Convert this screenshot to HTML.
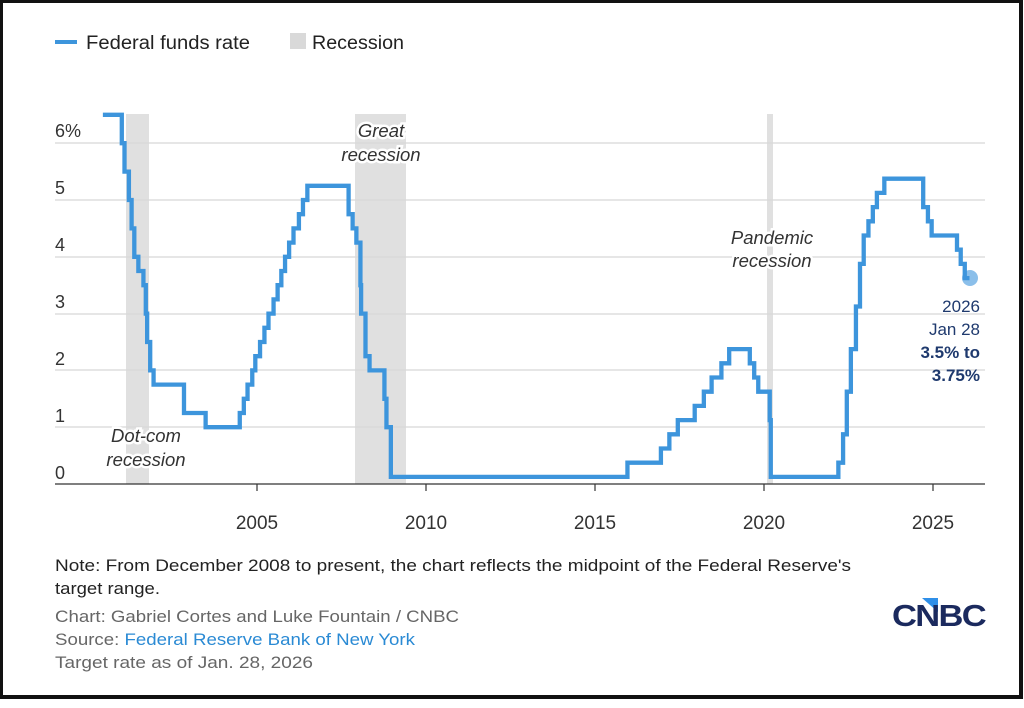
<!DOCTYPE html>
<html><head><meta charset="utf-8"><style>
html,body{margin:0;padding:0;background:#fff;width:1024px;height:708px;overflow:hidden}
.frame{position:absolute;left:0;top:0;width:1016px;height:692px;border:3px solid #111;border-right-width:4px;border-bottom-width:4px;background:#fff}
svg{position:absolute;left:0;top:0}
text{font-family:"Liberation Sans",sans-serif}
</style></head><body>
<div class="frame"></div>
<svg width="1024" height="708" viewBox="0 0 1024 708">
<!-- legend -->
<line x1="55" y1="42" x2="77" y2="42" stroke="#3d95dc" stroke-width="4"/>
<text x="86" y="49" font-size="19" fill="#222" textLength="164" lengthAdjust="spacingAndGlyphs">Federal funds rate</text>
<rect x="290" y="33" width="16" height="16" fill="#d9d9d9"/>
<text x="312" y="49" font-size="19" fill="#222" textLength="92" lengthAdjust="spacingAndGlyphs">Recession</text>
<!-- recessions -->
<rect x="126" y="114" width="23" height="370" fill="#e0e0e0"/>
<rect x="355" y="114" width="51" height="370" fill="#e0e0e0"/>
<rect x="767" y="114" width="6" height="370" fill="#e0e0e0"/>
<!-- grid -->
<g stroke="#d8d8d8" stroke-width="1.2">
<line x1="55" y1="143" x2="985" y2="143"/>
<line x1="55" y1="200" x2="985" y2="200"/>
<line x1="55" y1="257" x2="985" y2="257"/>
<line x1="55" y1="314" x2="985" y2="314"/>
<line x1="55" y1="370" x2="985" y2="370"/>
<line x1="55" y1="427" x2="985" y2="427"/>
</g>
<line x1="55" y1="484" x2="985" y2="484" stroke="#333" stroke-width="1.2"/>
<g stroke="#333" stroke-width="1.2">
<line x1="257" y1="484" x2="257" y2="491"/><line x1="426" y1="484" x2="426" y2="491"/>
<line x1="595" y1="484" x2="595" y2="491"/><line x1="764" y1="484" x2="764" y2="491"/>
<line x1="933" y1="484" x2="933" y2="491"/>
</g>
<g font-size="18" fill="#333">
<text x="55" y="137">6%</text><text x="55" y="194">5</text><text x="55" y="251">4</text>
<text x="55" y="308">3</text><text x="55" y="365">2</text><text x="55" y="422">1</text><text x="55" y="479">0</text>
</g>
<g font-size="19" fill="#333" text-anchor="middle">
<text x="257" y="529">2005</text><text x="426" y="529">2010</text><text x="595" y="529">2015</text>
<text x="764" y="529">2020</text><text x="933" y="529">2025</text>
</g>
<!-- annotations -->
<g font-size="18.5" fill="#333" font-style="italic" text-anchor="middle" stroke="#fff" stroke-width="5" paint-order="stroke">
<text x="381" y="137">Great</text><text x="381" y="161">recession</text>
<text x="146" y="442">Dot-com</text><text x="146" y="466">recession</text>
<text x="772" y="244">Pandemic</text><text x="772" y="267">recession</text>
</g>
<!-- series -->
<g transform="translate(257,484) scale(33.8,-56.8)">
<path vector-effect="non-scaling-stroke" fill="none" stroke="#3d95dc" stroke-width="4.3" stroke-linejoin="miter" d="M-4.56 6.5 H-4 V6 H-3.92 V5.5 H-3.79 V5 H-3.71 V4.5 H-3.63 V4 H-3.51 V3.75 H-3.36 V3.5 H-3.29 V3 H-3.25 V2.5 H-3.16 V2 H-3.06 V1.75 H-2.16 V1.25 H-1.52 V1 H-0.51 V1.25 H-0.39 V1.5 H-0.28 V1.75 H-0.14 V2 H-0.05 V2.25 H0.09 V2.5 H0.22 V2.75 H0.34 V3 H0.49 V3.25 H0.61 V3.5 H0.72 V3.75 H0.83 V4 H0.95 V4.25 H1.08 V4.5 H1.24 V4.75 H1.36 V5 H1.49 V5.25 H2.71 V4.75 H2.83 V4.5 H2.94 V4.25 H3.06 V3.5 H3.08 V3 H3.21 V2.25 H3.33 V2 H3.77 V1.5 H3.83 V1 H3.96 V0.125 H10.96 V0.375 H11.95 V0.625 H12.2 V0.875 H12.45 V1.125 H12.95 V1.375 H13.22 V1.625 H13.45 V1.875 H13.74 V2.125 H13.97 V2.375 H14.58 V2.125 H14.71 V1.875 H14.83 V1.625 H15.17 V1.125 H15.2 V0.125 H17.2 V0.375 H17.34 V0.875 H17.45 V1.625 H17.57 V2.375 H17.72 V3.125 H17.84 V3.875 H17.95 V4.375 H18.09 V4.625 H18.22 V4.875 H18.34 V5.125 H18.56 V5.375 H19.71 V4.875 H19.85 V4.625 H19.96 V4.375 H20.71 V4.125 H20.82 V3.875 H20.94 V3.625 H21.08"/>
</g>
<circle cx="970" cy="278" r="8" fill="#3d95dc" opacity="0.6"/>
<g font-size="17" fill="#1f3a6e" text-anchor="end">
<text x="980" y="312">2026</text><text x="980" y="335">Jan 28</text>
<text x="980" y="358" font-weight="bold">3.5% to</text><text x="980" y="381" font-weight="bold">3.75%</text>
</g>
<!-- footer -->
<g font-size="17">
<text x="55" y="571" fill="#222" textLength="796" lengthAdjust="spacingAndGlyphs">Note: From December 2008 to present, the chart reflects the midpoint of the Federal Reserve's</text>
<text x="55" y="594" fill="#222" textLength="105" lengthAdjust="spacingAndGlyphs">target range.</text>
<text x="55" y="622" fill="#666" textLength="404" lengthAdjust="spacingAndGlyphs">Chart: Gabriel Cortes and Luke Fountain / CNBC</text>
<text x="55" y="645" fill="#666" textLength="360" lengthAdjust="spacingAndGlyphs">Source: <tspan fill="#2a8ad4">Federal Reserve Bank of New York</tspan></text>
<text x="55" y="668" fill="#666" textLength="258" lengthAdjust="spacingAndGlyphs">Target rate as of Jan. 28, 2026</text>
</g>
<polygon points="922,598 938,598 938,612" fill="#2f8fe8"/>
<text x="892" y="626" font-size="31" font-weight="bold" fill="#1b2a5e" letter-spacing="-1.5" textLength="93" lengthAdjust="spacingAndGlyphs">CNBC</text>
</svg>
</body></html>
